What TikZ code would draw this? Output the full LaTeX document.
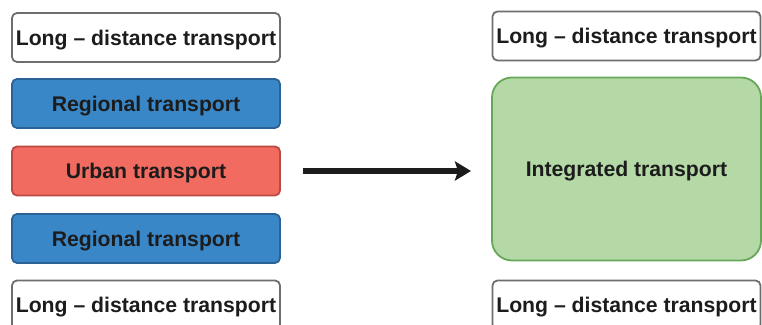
\documentclass[tikz,border=0pt]{standalone}
\usepackage{fontspec}
\setmainfont{Liberation Sans}
\usetikzlibrary{arrows.meta}
\definecolor{regblue}{HTML}{3A87C8}
\definecolor{regblueb}{HTML}{2A6296}
\definecolor{urbred}{HTML}{F26B60}
\definecolor{urbredb}{HTML}{B84A42}
\definecolor{intgreen}{HTML}{B4D9A6}
\definecolor{intgreenb}{HTML}{66A857}
\definecolor{boxgray}{HTML}{6E6E6E}
\definecolor{txt}{HTML}{1C1C1C}
\begin{document}
\begin{tikzpicture} [x=0.5pt, y=-0.5pt, font=\fontsize{10.6}{12}\selectfont\bfseries, line join=round, >={Stealth[length=8pt,width=9.5pt,inset=1.5pt]},
	tbox/.style={draw, line width=0.9pt, rounded corners=2.5pt, text=txt, text depth=0pt, minimum width=134pt, minimum height=24.5pt, inner sep=0pt},
	longbox/.style={tbox, draw=boxgray, fill=white},
	regbox/.style={tbox, draw=regblueb, fill=regblue},
	urbbox/.style={tbox, draw=urbredb, fill=urbred}]
				\useasboundingbox (0,0) rectangle (762,325);
				% left column
				\node[longbox] (lt) at (146,37.5) {Long -- distance transport};
				\node[regbox] (rt) at (146,103.5) {Regional transport};
				\node[urbbox] (ur) at (146,171) {Urban transport};
				\node[regbox] (rb) at (146,238.5) {Regional transport};
				\node[longbox] (lb) at (146,305) {Long -- distance transport};
				% right column
				\node[longbox] (lt2) at (626.5,36) {Long -- distance transport};
				\node[draw=intgreenb, fill=intgreen, line width=0.9pt, rounded corners=10pt, text=txt, text depth=0pt, minimum width=134.5pt, minimum height=91.5pt] (it) at (626.5,169) {Integrated transport};
				\node[longbox] (lb2) at (626.5,305) {Long -- distance transport};
				\coordinate (a1) at (303,171);
				\coordinate (a2) at (471,171);
				\draw[->, line width=2.6pt, draw=txt] (a1)--(a2);
			\end{tikzpicture}
\end{document}
